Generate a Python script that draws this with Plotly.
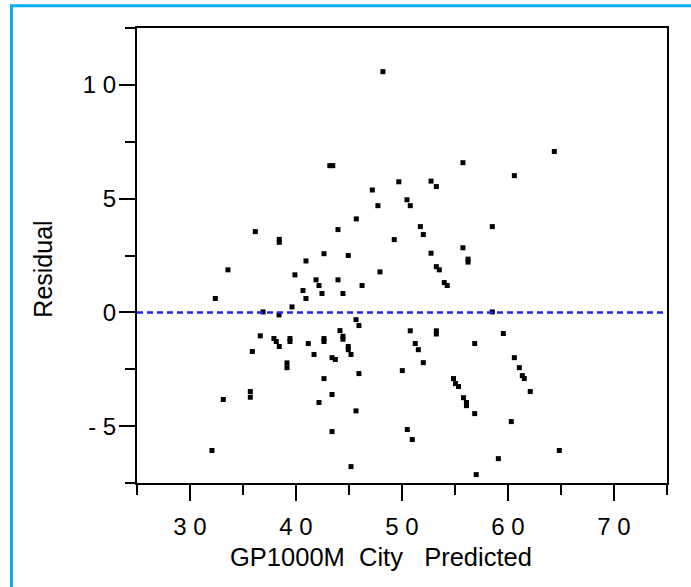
import plotly.graph_objects as go

# Data (predicted value, residual)
predicted = [
    48.2, 43.19, 43.47, 49.7, 47.2, 47.73, 45.69, 36.16, 43.96, 38.42, 38.42,
    49.27, 42.64, 44.93, 40.94, 64.37, 55.75, 60.6, 52.74, 53.24, 50.47, 50.78,
    51.73, 58.52, 52.01, 55.75, 52.74, 56.23, 56.23, 53.24, 53.52, 53.99, 54.27,
    33.58, 39.9, 41.89, 42.17, 43.96, 47.92, 40.66, 42.45, 44.43, 46.23, 32.39,
    40.94, 39.62, 36.89, 38.4, 45.66, 45.94, 36.63, 44.15, 44.43, 44.43, 37.92,
    38.14, 38.42, 39.43, 39.43, 41.16, 42.64, 42.64, 35.88, 41.7, 44.93, 44.93,
    45.19, 43.4, 43.71, 39.15, 39.15, 45.94, 50.03, 42.64, 35.69, 35.69, 33.14,
    43.4, 42.17, 45.66, 43.4, 32.07, 45.19, 58.52, 50.78, 53.24, 53.24, 59.56,
    51.25, 51.54, 56.86, 52.01, 60.6, 61.07, 61.35, 61.54, 62.1, 54.86, 55.05,
    55.33, 55.8, 56.08, 56.08, 56.86, 60.31, 50.5, 50.97, 64.84, 59.09, 57.0,
]
residual = [
    10.58, 6.45, 6.45, 5.74, 5.38, 4.69, 4.11, 3.55, 3.64, 3.21, 3.08,
    3.2, 2.58, 2.5, 2.26, 7.07, 6.58, 6.01, 5.77, 5.53, 4.95, 4.69,
    3.77, 3.77, 3.42, 2.84, 2.6, 2.34, 2.21, 2.01, 1.87, 1.31, 1.18,
    1.87, 1.65, 1.43, 1.18, 1.43, 1.78, 0.96, 0.83, 0.83, 1.18, 0.61,
    0.61, 0.24, 0.02, -0.11, -0.32, -0.58, -1.03, -0.8, -1.05, -1.18, -1.15,
    -1.28, -1.5, -1.15, -1.28, -1.37, -1.15, -1.28, -1.72, -1.85, -1.5, -1.64,
    -1.85, -1.99, -2.07, -2.22, -2.43, -2.69, -2.56, -2.91, -3.48, -3.73, -3.83,
    -3.61, -3.96, -4.33, -5.24, -6.07, -6.78, 0.02, -0.81, -0.81, -0.95, -0.93,
    -1.37, -1.64, -1.37, -2.21, -1.99, -2.43, -2.78, -2.91, -3.48, -2.91, -3.13,
    -3.26, -3.75, -3.96, -4.1, -4.45, -4.8, -5.15, -5.59, -6.07, -6.43, -7.13,
]

x_tickvals = [30, 40, 50, 60, 70]
x_ticktext = ["3 0", "4 0", "5 0", "6 0", "7 0"]
x_minorvals = [25, 35, 45, 55, 65, 75]
y_tickvals = [-5, 0, 5, 10]
y_ticktext = ["- 5", "0", "5", "1 0"]
y_minorvals = [-7.5, -2.5, 2.5, 7.5, 12.5]
x_range = [25, 75]
y_range = [-7.5, 12.5]
ref_residual = 0.0

FONT = "Liberation Sans, Arial, Helvetica, sans-serif"

fig = go.Figure()
fig.add_trace(go.Scatter(
    x=predicted, y=residual, mode="markers",
    marker=dict(symbol="square", size=5, color="black", line=dict(width=0)),
    showlegend=False, hoverinfo="x+y",
))

axis_common = dict(
    showgrid=False, zeroline=False, showline=True, linecolor="black",
    linewidth=2, mirror=True, ticks="outside", ticklen=16, tickwidth=2,
    tickcolor="black", tickfont=dict(family=FONT, size=24, color="black"),
)

fig.update_xaxes(
    range=x_range, tickmode="array", tickvals=x_tickvals, ticktext=x_ticktext,
    ticklabelstandoff=5,
    minor=dict(tickmode="array", tickvals=x_minorvals, ticks="outside",
               ticklen=10, tickwidth=2, tickcolor="black", showgrid=False),
    **axis_common,
)
fig.update_yaxes(
    range=y_range, tickmode="array", tickvals=y_tickvals, ticktext=y_ticktext,
    ticklabelstandoff=-2,
    minor=dict(tickmode="array", tickvals=y_minorvals, ticks="outside",
               ticklen=10, tickwidth=2, tickcolor="black", showgrid=False),
    **axis_common,
)

fig.add_shape(type="line", xref="paper", yref="y", x0=0, x1=1,
              y0=ref_residual, y1=ref_residual,
              line=dict(color="#2424EE", width=2.5, dash="6px,4px"))

# light blue outer frame
fig.add_shape(type="rect", xref="paper", yref="paper",
              x0=-0.2368, x1=1.2, y0=-0.4, y1=1.049,
              line=dict(color="#0AAEEF", width=3), layer="below")

fig.add_annotation(text="GP1000M  City   Predicted", xref="paper", yref="paper",
                   x=0.4613, y=-0.163, xanchor="center", yanchor="middle",
                   showarrow=False, font=dict(family=FONT, size=25.5, color="black"))
fig.add_annotation(text="Residual", xref="paper", yref="paper",
                   x=-0.1774, y=0.471, xanchor="center", yanchor="middle",
                   textangle=-90, showarrow=False,
                   font=dict(family=FONT, size=25, color="black"))

fig.update_layout(
    width=691, height=587,
    margin=dict(l=136.5, r=24.3, t=28.3, b=103.7),
    paper_bgcolor="white", plot_bgcolor="white",
    font=dict(family=FONT, color="black"),
)

fig.write_html("out.html")
